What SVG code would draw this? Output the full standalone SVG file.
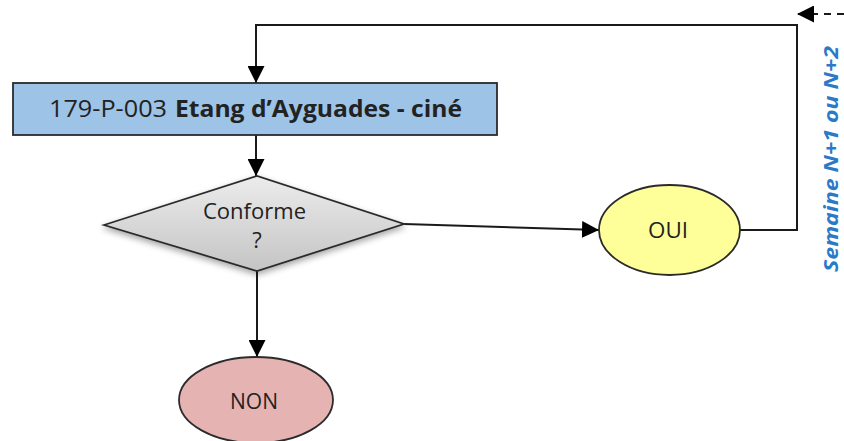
<svg xmlns="http://www.w3.org/2000/svg" width="844" height="441" viewBox="0 0 844 441">
<style>
  .lbl { font-family: "Open Sans", "Liberation Sans", sans-serif; fill: #222222; }
  .conn { fill: none; stroke: #1a1a1a; stroke-width: 2; }
  .shape { stroke: #2b2b2b; stroke-width: 1.8; }
</style>
<defs>
  <marker id="arr" viewBox="0 0 16 16" refX="16" refY="8" markerWidth="17" markerHeight="17" markerUnits="userSpaceOnUse" orient="auto">
    <path d="M0,0 L16,8 L0,16 z" fill="#000"/>
  </marker>
  <linearGradient id="grey" x1="0" y1="0" x2="0" y2="1">
    <stop offset="0" stop-color="#ececec"/>
    <stop offset="1" stop-color="#c4c4c4"/>
  </linearGradient>
  <filter id="shadow" x="-20%" y="-20%" width="140%" height="150%">
    <feDropShadow dx="0" dy="3" stdDeviation="3" flood-color="#000" flood-opacity="0.35"/>
  </filter>
</defs>
<g id="connectors">
  <polyline class="conn" points="740,230 797,230 797,25 256,25 256,83" marker-end="url(#arr)"/>
  <line class="conn" x1="256" y1="135" x2="256" y2="176" marker-end="url(#arr)"/>
  <line class="conn" x1="404" y1="224" x2="599" y2="230" marker-end="url(#arr)"/>
  <line class="conn" x1="257" y1="271" x2="257" y2="357" marker-end="url(#arr)"/>
  <line class="conn" x1="844" y1="14" x2="797" y2="14" stroke-dasharray="7,6" marker-end="url(#arr)"/>
</g>
<g id="node-box">
  <rect class="shape" x="13" y="83" width="484" height="52" fill="#9dc3e6"/>
  <text class="lbl" x="49" y="117" font-size="23" textLength="118" lengthAdjust="spacingAndGlyphs">179-P-003</text>
  <text class="lbl" x="175" y="117" font-size="23" font-weight="bold" textLength="287" lengthAdjust="spacingAndGlyphs">Etang d’Ayguades - ciné</text>
</g>
<g id="node-decision">
  <polygon class="shape" points="104,225 257,176 404,224 257,271" fill="url(#grey)" filter="url(#shadow)"/>
  <text class="lbl" x="203" y="219" font-size="22" textLength="103" lengthAdjust="spacingAndGlyphs">Conforme</text>
  <text class="lbl" x="257" y="248" font-size="22" text-anchor="middle">?</text>
</g>
<g id="node-oui">
  <ellipse class="shape" cx="669.5" cy="230" rx="70.5" ry="45" fill="#ffff99"/>
  <text class="lbl" x="648" y="238" font-size="22" textLength="40" lengthAdjust="spacingAndGlyphs">OUI</text>
</g>
<g id="node-non">
  <ellipse class="shape" cx="256" cy="400" rx="77" ry="43" fill="#e6b3b3"/>
  <text class="lbl" x="230" y="409" font-size="22" textLength="48" lengthAdjust="spacingAndGlyphs">NON</text>
</g>
<g id="label-semaine">
  <text transform="translate(838,272) rotate(-90)" x="0" y="0" font-family="Open Sans, Liberation Sans, sans-serif" font-size="19" font-weight="bold" font-style="italic" fill="#2a7ac8" textLength="226" lengthAdjust="spacingAndGlyphs">Semaine N+1 ou N+2</text>
</g>
</svg>
